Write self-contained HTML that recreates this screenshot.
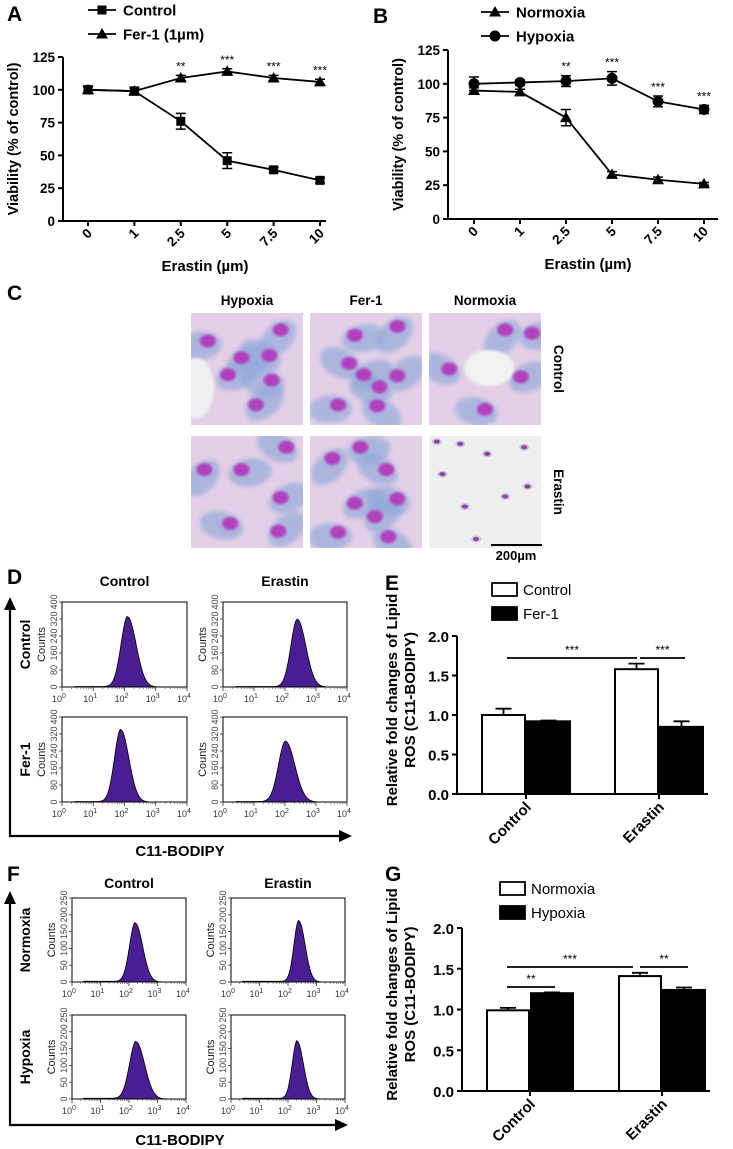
<!DOCTYPE html>
<html><head><meta charset="utf-8"><style>
html,body{margin:0;padding:0;background:#fff}
svg{display:block;font-family:"Liberation Sans",Arial,sans-serif}
</style></head><body>
<svg id="fig" width="733" height="1149" viewBox="0 0 733 1149" xmlns="http://www.w3.org/2000/svg">
<defs>
<filter id="blur2"><feGaussianBlur stdDeviation="2.5"/></filter>
<filter id="blur1"><feGaussianBlur stdDeviation="1.2"/></filter>
</defs>
<g id="root"></g>
</svg>
<script>
// ---------- data ----------
const doseLabels = ["0","1","2.5","5","7.5","10"];
const aControl = [100, 99, 76, 46, 39, 31];
const aControlErr = [3, 3, 6, 6, 2, 2];
const aFer1 = [100, 99, 109, 114, 109, 106];
const aFer1Err = [2, 2, 2, 2, 2, 2];
const aStars = ["", "", "**", "***", "***", "***"];
const bNormoxia = [95, 94, 75, 33, 29, 26];
const bNormoxiaErr = [2, 2, 6, 2, 2, 1];
const bHypoxia = [100, 101, 102, 104, 87, 81];
const bHypoxiaErr = [5, 2, 4, 5, 4, 3];
const bStars = ["", "", "**", "***", "***", "***"];
const viabTicks = [0, 25, 50, 75, 100, 125];

const barCats = ["Control", "Erastin"];
const eControl = [1.0, 1.58];
const eControlErr = [0.08, 0.07];
const eFer1 = [0.92, 0.85];
const eFer1Err = [0.01, 0.07];
const gNormoxia = [0.99, 1.41];
const gNormoxiaErr = [0.03, 0.04];
const gHypoxia = [1.2, 1.24];
const gHypoxiaErr = [0.01, 0.03];
const rosTicks = [0.0, 0.5, 1.0, 1.5, 2.0];

// histogram peaks: log10 position, height (counts), width (log units)
const dPeakLog = [2.1, 2.4, 1.88, 2.02];
const dPeakHeight = [330, 318, 340, 285];
const dPeakWidth = [0.21, 0.21, 0.2, 0.23];
const fPeakLog = [2.22, 2.38, 2.25, 2.32];
const fPeakHeight = [175, 182, 170, 172];
const fPeakWidth = [0.2, 0.17, 0.23, 0.17];
const dCountTicks = [0, 80, 160, 240, 320, 400];
const fCountTicks = [0, 50, 100, 150, 200, 250];
const decadeTicks = [0, 1, 2, 3, 4];

// ---------- helpers ----------
const NS = "http://www.w3.org/2000/svg";
const root = document.getElementById("root");
function el(tag, attrs, parent, text) {
  const e = document.createElementNS(NS, tag);
  for (const k in attrs) e.setAttribute(k, attrs[k]);
  if (text !== undefined) e.textContent = text;
  (parent || root).appendChild(e);
  return e;
}
function grp(name, parent) {
  const g = el("g", {}, parent);
  
  
  return g;
}
function label(parent, x, y, txt, size, name, extra) {
  const a = Object.assign({x: x, y: y, "font-size": size, "font-weight": "bold", fill: "#000"}, extra || {});
  const t = el("text", a, parent, txt);
  
  
  return t;
}
function marker(parent, kind, x, y) {
  let m;
  if (kind === "square") m = el("rect", {x: x - 4.5, y: y - 4.5, width: 9, height: 9, fill: "#000"}, parent);
  else if (kind === "triangle") m = el("polygon", {points: `${x},${y - 6} ${x - 6},${y + 4.5} ${x + 6},${y + 4.5}`, fill: "#000"}, parent);
  else m = el("circle", {cx: x, cy: y, r: 5.5, fill: "#000"}, parent);
  
  
  return m;
}

// ---------- line charts ----------
function lineChart(cfg) {
  const g = grp(cfg.name);
  const yS = v => cfg.yBottom - (v / 125) * (cfg.yBottom - cfg.yTop);
  const xS = i => cfg.xFirst + i * cfg.xStep;
  label(g, cfg.letterX, cfg.letterY, cfg.letter, 21, "panel-letter-" + cfg.letter.toLowerCase());
  const ya = el("line", {x1: cfg.axisX, y1: cfg.yTop, x2: cfg.axisX, y2: cfg.yBottom, stroke: "#000", "stroke-width": 2}, g);
   
  const xa = el("line", {x1: cfg.axisX, y1: cfg.yBottom, x2: cfg.axisEnd, y2: cfg.yBottom, stroke: "#000", "stroke-width": 2}, g);
   
  viabTicks.forEach(v => {
    el("line", {x1: cfg.axisX - 5, y1: yS(v), x2: cfg.axisX, y2: yS(v), stroke: "#000", "stroke-width": 2}, g);
    label(g, cfg.axisX - 8, yS(v) + 5, String(v), 13.5, "y-tick-label", {"text-anchor": "end"});
  });
  doseLabels.forEach((d, i) => {
    el("line", {x1: xS(i), y1: cfg.yBottom, x2: xS(i), y2: cfg.yBottom + 5, stroke: "#000", "stroke-width": 2}, g);
    label(g, 0, 0, d, 13.5, "x-tick-label", {"text-anchor": "end", transform: `translate(${xS(i) + 5},${cfg.yBottom + 13}) rotate(-45)`});
  });
  label(g, 0, 0, "Viability (% of control)", 14.5, "y-axis-title", {"text-anchor": "middle", transform: `translate(${cfg.yTitleX},${(cfg.yTop + cfg.yBottom) / 2}) rotate(-90)`});
  label(g, cfg.xTitleX, cfg.xTitleY, "Erastin (µm)", 15, "x-axis-title", {"text-anchor": "middle"});
  cfg.series.forEach(s => {
    const sg = grp("series-" + s.key, g);
    const pts = s.vals.map((v, i) => `${xS(i)},${yS(v)}`).join(" ");
    el("polyline", {points: pts, fill: "none", stroke: "#000", "stroke-width": 1.8}, sg);
    s.vals.forEach((v, i) => {
      const e = s.err[i];
      const x = xS(i);
      el("path", {d: `M${x},${yS(v + e)}V${yS(v - e)}M${x - 5},${yS(v + e)}H${x + 5}M${x - 5},${yS(v - e)}H${x + 5}`, stroke: "#000", "stroke-width": 1.5, fill: "none"}, sg);
      marker(sg, s.marker, x, yS(v));
    });
    if (s.stars) s.stars.forEach((st, i) => {
      if (st) label(sg, xS(i), yS(s.vals[i] + s.err[i]) - 5, st, 12, "significance-stars", {"text-anchor": "middle", "font-weight": "normal"});
    });
  });
  cfg.legend.forEach((l, k) => {
    const lg = grp("legend-entry-" + l.key, g);
    const y = cfg.legY + k * 24;
    el("line", {x1: cfg.legX, y1: y, x2: cfg.legX + 28, y2: y, stroke: "#000", "stroke-width": 1.8}, lg);
    marker(lg, l.marker, cfg.legX + 14, y);
    label(lg, cfg.legX + 35, y + 5.5, l.text, 15, "legend-label");
  });
}
lineChart({name: "panel-a-viability-chart", letter: "A", letterX: 7, letterY: 21, axisX: 63, axisEnd: 326, yTop: 57, yBottom: 221,
  xFirst: 88, xStep: 46.4, yTitleX: 18, xTitleX: 205, xTitleY: 271, legX: 88, legY: 10,
  series: [{key: "control", vals: aControl, err: aControlErr, marker: "square"},
           {key: "fer-1", vals: aFer1, err: aFer1Err, marker: "triangle", stars: aStars}],
  legend: [{key: "control", marker: "square", text: "Control"}, {key: "fer-1", marker: "triangle", text: "Fer-1 (1µm)"}]});
lineChart({name: "panel-b-viability-chart", letter: "B", letterX: 373, letterY: 23, axisX: 448, axisEnd: 718, yTop: 50, yBottom: 219,
  xFirst: 474, xStep: 46, yTitleX: 403, xTitleX: 588, xTitleY: 269, legX: 481, legY: 12,
  series: [{key: "normoxia", vals: bNormoxia, err: bNormoxiaErr, marker: "triangle"},
           {key: "hypoxia", vals: bHypoxia, err: bHypoxiaErr, marker: "circle", stars: bStars}],
  legend: [{key: "normoxia", marker: "triangle", text: "Normoxia"}, {key: "hypoxia", marker: "circle", text: "Hypoxia"}]});

// ---------- panel C micrographs ----------
(function () {
  const g = grp("panel-c-micrographs");
  label(g, 7, 300, "C", 21, "panel-letter-c");
  const cols = [191, 310, 429];
  const rows = [313, 436];
  const W = 112, H = 112;
  ["Hypoxia", "Fer-1", "Normoxia"].forEach((t, i) => label(g, cols[i] + W / 2, 305, t, 13.5, "column-label", {"text-anchor": "middle"}));
  ["Control", "Erastin"].forEach((t, i) => label(g, 0, 0, t, 13.5, "row-label", {"text-anchor": "middle", transform: `translate(${554},${rows[i] + H / 2}) rotate(90)`}));
  const nuclei = [
    [[.8,.15],[.45,.4],[.7,.38],[.33,.55],[.72,.6],[.58,.82],[.15,.25]],
    [[.78,.12],[.4,.2],[.35,.45],[.48,.55],[.62,.66],[.78,.56],[.25,.82],[.6,.83]],
    [[.68,.15],[.92,.18],[.18,.5],[.82,.57],[.5,.86]],
    [[.12,.3],[.45,.3],[.85,.1],[.8,.55],[.35,.78],[.78,.85]],
    [[.2,.2],[.45,.1],[.68,.3],[.4,.6],[.78,.56],[.58,.72],[.25,.86],[.7,.9]],
    []
  ];
  const dead = [[.07,.05],[.28,.07],[.52,.16],[.12,.34],[.88,.45],[.68,.54],[.32,.63],[.42,.92],[.85,.1]];
  let idx = 0;
  rows.forEach((ry, r) => cols.forEach((cx, c) => {
    const ig = grp("micrograph-" + ["control","erastin"][r] + "-" + ["hypoxia","fer-1","normoxia"][c], g);
    const cp = el("clipPath", {id: "cp" + idx}, ig);
    el("rect", {x: cx, y: ry, width: W, height: H}, cp);
    const inner = el("g", {"clip-path": `url(#cp${idx})`}, ig);
    if (r === 1 && c === 2) {
      el("rect", {x: cx, y: ry, width: W, height: H, fill: "#eef0ef"}, inner);
      dead.forEach(p => {
        el("ellipse", {cx: cx + p[0] * W, cy: ry + p[1] * H, rx: 5, ry: 3.5, fill: "#c8c4e0"}, inner);
        el("ellipse", {cx: cx + p[0] * W, cy: ry + p[1] * H, rx: 3, ry: 2, fill: "#9a3ca8"}, inner);
      });
    } else {
      el("rect", {x: cx, y: ry, width: W, height: H, fill: "#e4d0e6"}, inner);
      const n = nuclei[idx];
      n.forEach((p, k) => {
        el("ellipse", {cx: cx + p[0] * W + (k % 2 ? 8 : -8), cy: ry + p[1] * H + 4, rx: 22, ry: 14, fill: "#8fa8da", opacity: 0.65, filter: "url(#blur2)", transform: `rotate(${(k * 37) % 90 - 45} ${cx + p[0] * W} ${ry + p[1] * H})`}, inner);
      });
      if (idx === 2) el("ellipse", {cx: cx + 60, cy: ry + 55, rx: 25, ry: 18, fill: "#f2f2f2", filter: "url(#blur1)"}, inner);
      if (idx === 0) el("ellipse", {cx: cx + 5, cy: ry + 75, rx: 18, ry: 30, fill: "#eef0f2", filter: "url(#blur1)"}, inner);
      n.forEach(p => {
        el("ellipse", {cx: cx + p[0] * W, cy: ry + p[1] * H, rx: 8, ry: 6.5, fill: "#b040bd", filter: "url(#blur1)"}, inner);
      });
    }
    idx++;
  }));
  const sb = el("line", {x1: 491, y1: 545, x2: 542, y2: 545, stroke: "#000", "stroke-width": 2}, g);
   
  label(g, 516, 560, "200µm", 13, "scale-bar-label", {"text-anchor": "middle"});
})();

// ---------- flow histograms ----------
function flowPanel(cfg) {
  const g = grp(cfg.name);
  label(g, 7, cfg.letterY, cfg.letter, 21, "panel-letter-" + cfg.letter.toLowerCase());
  const ax = el("path", {d: `M10,${cfg.arrowTop + 10}V${cfg.originY}H${cfg.arrowRight - 10}`, stroke: "#000", "stroke-width": 2.2, fill: "none"}, g);
   
  el("polygon", {points: `10,${cfg.arrowTop} 4,${cfg.arrowTop + 13} 16,${cfg.arrowTop + 13}`, fill: "#000"}, g);
  el("polygon", {points: `${cfg.arrowRight},${cfg.originY} ${cfg.arrowRight - 13},${cfg.originY - 6} ${cfg.arrowRight - 13},${cfg.originY + 6}`, fill: "#000"}, g);
  label(g, 180, cfg.titleY, "C11-BODIPY", 15, "x-axis-title", {"text-anchor": "middle"});
  cfg.colLabels.forEach((t, i) => label(g, (cfg.boxX[i][0] + cfg.boxX[i][1]) / 2, cfg.colY, t, 14, "column-label", {"text-anchor": "middle"}));
  cfg.rowLabels.forEach((t, j) => label(g, 0, 0, t, 14, "row-label", {"text-anchor": "middle", transform: `translate(${30},${(cfg.boxY[j][0] + cfg.boxY[j][1]) / 2}) rotate(-90)`}));
  let k = 0;
  cfg.boxY.forEach((by, j) => cfg.boxX.forEach((bx, i) => {
    const hg = grp("histogram-" + cfg.rowLabels[j].toLowerCase() + "-" + cfg.colLabels[i].toLowerCase(), g);
    const x0 = bx[0], x1 = bx[1], y0 = by[0], y1 = by[1];
    const maxC = cfg.ticks[cfg.ticks.length - 1];
    const xS = l => x0 + (l / 4) * (x1 - x0);
    const yS = c => y1 - (c / maxC) * (y1 - y0);
    const mu = cfg.peakLog[k], h = cfg.peakHeight[k], s = cfg.peakWidth[k];
    let d = `M${xS(0.35)},${yS(0)}`;
    for (let l = 0.35; l <= 4.0001; l += 0.02) {
      const sd = l < mu ? s : s * 1.3;
      let c = h * Math.exp(-((l - mu) * (l - mu)) / (2 * sd * sd)) + (l > 0.4 && l < mu ? 2 : 0);
      d += `L${xS(l).toFixed(2)},${yS(c).toFixed(2)}`;
    }
    d += `L${xS(4)},${yS(0)}Z`;
    const p = el("path", {d: d, fill: "#4a1d95", stroke: "#000", "stroke-width": 0.8}, hg);
     
    el("rect", {x: x0, y: y0, width: x1 - x0, height: y1 - y0, fill: "none", stroke: "#000", "stroke-width": 1}, hg);
    cfg.ticks.forEach(t => {
      el("line", {x1: x0 - 3, y1: yS(t), x2: x0, y2: yS(t), stroke: "#333", "stroke-width": 0.8}, hg);
      const tl = el("text", {x: 0, y: 0, "font-size": 9, fill: "#444", "text-anchor": "middle", transform: `translate(${x0 - 5},${yS(t)}) rotate(-90)`}, hg, String(t));
       
    });
    const ct = el("text", {x: 0, y: 0, "font-size": 11, fill: "#222", "text-anchor": "middle", transform: `translate(${x0 - 17},${(y0 + y1) / 2}) rotate(-90)`}, hg, "Counts");
     
    decadeTicks.forEach(t => {
      el("line", {x1: xS(t), y1: y1, x2: xS(t), y2: y1 + 4, stroke: "#333", "stroke-width": 0.8}, hg);
      if (t < 4) for (let m = 2; m < 10; m++) {
        const xm = xS(t + Math.log10(m));
        el("line", {x1: xm, y1: y1, x2: xm, y2: y1 + 2, stroke: "#555", "stroke-width": 0.6}, hg);
      }
      const tx = el("text", {x: xS(t) - 3, y: y1 + 15, "font-size": 9, fill: "#333", "text-anchor": "middle"}, hg);
       
      el("tspan", {}, tx, "10");
      el("tspan", {dy: -4, "font-size": 7}, tx, String(t));
    });
    k++;
  }));
}
flowPanel({name: "panel-d-flow-cytometry", letter: "D", letterY: 584, arrowTop: 597, originY: 836, arrowRight: 352, titleY: 856,
  colY: 586, colLabels: ["Control", "Erastin"], rowLabels: ["Control", "Fer-1"],
  boxX: [[62, 187], [223, 347]], boxY: [[602, 687], [717, 802]],
  ticks: dCountTicks, peakLog: dPeakLog, peakHeight: dPeakHeight, peakWidth: dPeakWidth});
flowPanel({name: "panel-f-flow-cytometry", letter: "F", letterY: 881, arrowTop: 891, originY: 1125, arrowRight: 348, titleY: 1145,
  colY: 888, colLabels: ["Control", "Erastin"], rowLabels: ["Normoxia", "Hypoxia"],
  boxX: [[72, 186], [231, 345]], boxY: [[898, 982], [1015, 1099]],
  ticks: fCountTicks, peakLog: fPeakLog, peakHeight: fPeakHeight, peakWidth: fPeakWidth});

// ---------- bar charts ----------
function barChart(cfg) {
  const g = grp(cfg.name);
  label(g, 385, cfg.letterY, cfg.letter, 21, "panel-letter-" + cfg.letter.toLowerCase());
  const yS = v => cfg.y0 - (v / 2) * (cfg.y0 - cfg.y2);
  const ya = el("line", {x1: cfg.axisX, y1: cfg.y2, x2: cfg.axisX, y2: cfg.y0, stroke: "#000", "stroke-width": 2}, g);
   
  const xa = el("line", {x1: cfg.axisX, y1: cfg.y0, x2: cfg.axisEnd, y2: cfg.y0, stroke: "#000", "stroke-width": 2}, g);
   
  rosTicks.forEach(v => {
    el("line", {x1: cfg.axisX - 5, y1: yS(v), x2: cfg.axisX, y2: yS(v), stroke: "#000", "stroke-width": 2}, g);
    label(g, cfg.axisX - 8, yS(v) + 6, v.toFixed(1), 15, "y-tick-label", {"text-anchor": "end"});
  });
  label(g, 0, 0, "Relative fold changes of Lipid", 15, "y-axis-title", {"text-anchor": "middle", transform: `translate(${397},${(cfg.y0 + cfg.y2) / 2 - 15}) rotate(-90)`});
  label(g, 0, 0, "ROS (C11-BODIPY)", 15, "y-axis-title", {"text-anchor": "middle", transform: `translate(${415},${(cfg.y0 + cfg.y2) / 2 - 15}) rotate(-90)`});
  barCats.forEach((cat, i) => {
    const gx = cfg.groupX[i];
    [[cfg.a, cfg.aErr, "#fff", cfg.legend[0]], [cfg.b, cfg.bErr, "#000", cfg.legend[1]]].forEach((s, j) => {
      const x = gx - cfg.barW + j * cfg.barW;
      const v = s[0][i], e = s[1][i];
      const cx = x + cfg.barW / 2;
      el("path", {d: `M${cx},${yS(v)}V${yS(v + e)}M${cx - 8},${yS(v + e)}H${cx + 8}`, stroke: "#000", "stroke-width": 1.8}, g);
      const b = el("rect", {x: x + 1, y: yS(v), width: cfg.barW - 2, height: cfg.y0 - yS(v), fill: s[2], stroke: "#000", "stroke-width": 2}, g);
      
      
    });
    el("line", {x1: gx, y1: cfg.y0, x2: gx, y2: cfg.y0 + 5, stroke: "#000", "stroke-width": 2}, g);
    label(g, 0, 0, cat, 15, "x-tick-label", {"text-anchor": "end", transform: `translate(${gx + 6},${cfg.y0 + 14}) rotate(-45)`});
  });
  cfg.sig.forEach(s => {
    const sg = grp("significance-bracket", g);
    el("line", {x1: s[0], y1: s[2], x2: s[1], y2: s[2], stroke: "#000", "stroke-width": 1.8}, sg);
    label(sg, (s[0] + s[1]) / 2, s[2] - 4, s[3], 12, "significance-stars", {"text-anchor": "middle", "font-weight": "normal"});
  });
  cfg.legend.forEach((t, k) => {
    const lg = grp("legend-entry-" + t.toLowerCase(), g);
    const y = cfg.legY + k * 24;
    el("rect", {x: cfg.legX, y: y, width: 25, height: 13, fill: k ? "#000" : "#fff", stroke: "#000", "stroke-width": 1.8}, lg);
    label(lg, cfg.legX + 31, y + 12, t, 15, "legend-label", {"font-weight": "normal"});
  });
}
barChart({name: "panel-e-lipid-ros-chart", letter: "E", letterY: 590, axisX: 457, axisEnd: 708, y0: 794, y2: 636,
  groupX: [526, 659], barW: 45, a: eControl, aErr: eControlErr, b: eFer1, bErr: eFer1Err,
  legend: ["Control", "Fer-1"], legX: 492, legY: 583,
  sig: [[507, 637, 658, "***"], [640, 685, 658, "***"]]});
barChart({name: "panel-g-lipid-ros-chart", letter: "G", letterY: 881, axisX: 462, axisEnd: 710, y0: 1091, y2: 928,
  groupX: [530, 662], barW: 44, a: gNormoxia, aErr: gNormoxiaErr, b: gHypoxia, bErr: gHypoxiaErr,
  legend: ["Normoxia", "Hypoxia"], legX: 500, legY: 882,
  sig: [[507, 633, 967, "***"], [640, 688, 967, "**"], [507, 555, 987, "**"]]});
</script>
</body></html>
